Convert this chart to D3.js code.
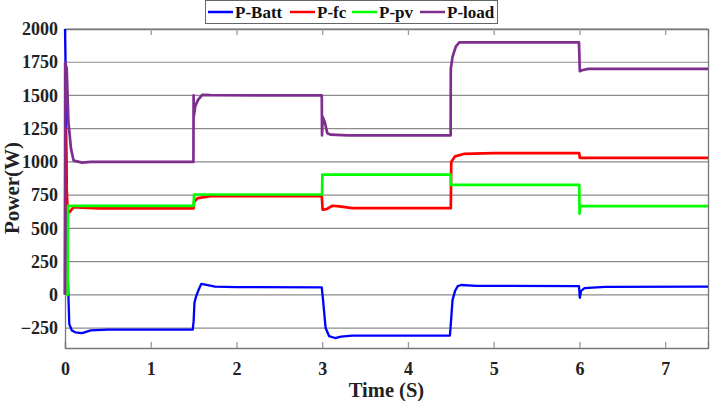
<!DOCTYPE html>
<html><head><meta charset="utf-8">
<script src="https://cdn.jsdelivr.net/npm/d3@7"></script>
<style>body{margin:0;background:#fff}svg{display:block}text{font-family:"Liberation Serif","Times New Roman",serif !important;font-weight:bold}</style>
</head><body><svg id="c" width="710" height="401"></svg>
<script>
const seriesNames = ["P-Batt","P-fc","P-pv","P-load"];
const seriesColors = ["#0000ff","#ff0000","#00ff00","#7e2f8e"];
const xTicks = [0,1,2,3,4,5,6,7];
const yTicks = [-250,0,250,500,750,1000,1250,1500,1750,2000];
const pBatt = [[0,2000],[0.005,1800],[0.03,200],[0.05,-220],[0.08,-268],[0.12,-282],[0.2,-288],[0.3,-268],[0.5,-262],[1.49,-262],[1.5,-200],[1.51,-60],[1.53,-10],[1.56,40],[1.59,83],[1.65,75],[1.75,62],[2,58],[2.995,56],[3.01,-40],[3.04,-250],[3.08,-310],[3.15,-325],[3.22,-315],[3.35,-307],[4.49,-306],[4.5,-220],[4.52,-40],[4.55,30],[4.58,65],[4.62,74],[4.8,68],[5.995,65],[6.005,-22],[6.02,30],[6.06,50],[6.3,60],[7.5,62]];
const pFc = [[0,0],[0.005,1250],[0.015,870],[0.03,640],[0.05,620],[0.1,660],[0.2,655],[0.4,650],[1.5,650],[1.505,700],[1.55,728],[1.7,742],[2.995,745],[3.005,640],[3.05,645],[3.12,670],[3.2,666],[3.35,652],[4.5,652],[4.505,1000],[4.55,1042],[4.65,1060],[5,1066],[5.998,1066],[6.005,1030],[7.5,1030]];
const pPv = [[0,0],[0.03,0],[0.035,670],[1.5,670],[1.505,755],[2.998,755],[3.002,905],[4.498,905],[4.502,828],[5.998,828],[6.002,610],[6.006,668],[7.5,668]];
const pLoad = [[0,0],[0.002,1750],[0.02,1700],[0.04,1300],[0.07,1100],[0.1,1010],[0.2,995],[0.3,1000],[1.498,1000],[1.5,1500],[1.503,1345],[1.52,1420],[1.55,1465],[1.6,1505],[1.7,1502],[2.995,1500],[2.998,1200],[3.005,1340],[3.03,1300],[3.06,1215],[3.1,1205],[3.3,1200],[4.498,1200],[4.5,1700],[4.52,1790],[4.56,1870],[4.6,1900],[5.995,1900],[6.005,1682],[6.03,1690],[6.1,1700],[7.5,1700]];
const allSeries = [pBatt,pFc,pPv,pLoad];

const svg = d3.select("#c");
const L=65, R=708, T=29, B=348;
const x = d3.scaleLinear().domain([0,7.5]).range([L,R]);
const y = d3.scaleLinear().domain([-400,2000]).range([B,T]);

// grid
svg.append("g").selectAll("line").data(yTicks).join("line")
  .attr("x1",L).attr("x2",R).attr("y1",d=>y(d)).attr("y2",d=>y(d))
  .attr("stroke","#8c8c8c").attr("stroke-width",1.2);

// axes
const gx = svg.append("g").attr("transform",`translate(0,${B})`)
  .call(d3.axisBottom(x).tickValues(xTicks).tickSize(-6).tickPadding(14).tickFormat(d3.format("d")));
const gxt = svg.append("g").attr("transform",`translate(0,${T})`)
  .call(d3.axisTop(x).tickValues(xTicks).tickSize(-6).tickFormat(""));
const gy = svg.append("g").attr("transform",`translate(${L},0)`)
  .call(d3.axisLeft(y).tickValues(yTicks).tickSize(0).tickPadding(7).tickFormat(d3.format("d")));
const gyr = svg.append("g").attr("transform",`translate(${R},0)`)
  .call(d3.axisRight(y).tickValues([]).tickSize(0));
[gx,gxt,gy,gyr].forEach(g=>{
  g.attr("font-family","Liberation Serif").attr("font-size",18).attr("font-weight","bold");
  g.select(".domain").attr("stroke","#777").attr("stroke-width",1.3);
  g.selectAll(".tick line").attr("stroke","#999").attr("stroke-width",1.3);
  g.selectAll(".tick text").attr("fill","#222");
});

// lines
const line = d3.line().x(d=>x(d[0])).y(d=>y(d[1]));
allSeries.forEach((s,i)=>{
  svg.append("path").datum(s).attr("d",line).attr("fill","none")
    .attr("stroke",seriesColors[i]).attr("stroke-width",i===0?2.3:2.7)
    .attr("stroke-linejoin","round");
});

// labels
svg.append("text").attr("x",(L+R)/2).attr("y",397).attr("text-anchor","middle")
  .attr("font-size",20.5).attr("fill","#222").text("Time (S)");
svg.append("text").attr("transform",`translate(19,188) rotate(-90)`).attr("text-anchor","middle")
  .attr("font-size",21).attr("fill","#222").text("Power(W)");

// legend
const lg = svg.append("g");
lg.append("rect").attr("x",205.5).attr("y",0.5).attr("width",292).attr("height",23)
  .attr("fill","#fff").attr("stroke","#666").attr("stroke-width",1);
const legX = [208,290,352,420];
seriesNames.forEach((n,i)=>{
  lg.append("line").attr("x1",legX[i]).attr("x2",legX[i]+25).attr("y1",12).attr("y2",12)
    .attr("stroke",seriesColors[i]).attr("stroke-width",2.5);
  lg.append("text").attr("x",legX[i]+27).attr("y",18).attr("font-size",17).attr("fill","#111").text(n);
});
</script></body></html>
